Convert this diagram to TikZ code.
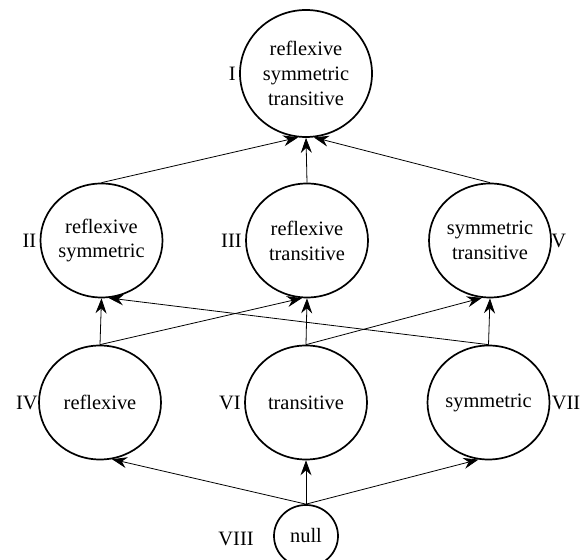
\documentclass[tikz,border=0pt]{standalone}
\usepackage{fontspec}
\setmainfont{Liberation Serif}
\usepackage{tikz}
\usetikzlibrary{arrows.meta}
\usetikzlibrary{shapes.geometric, positioning}

\tikzset{
    prop/.style={ellipse, draw, line width=1.7bp, inner sep=-2bp,
        minimum width=122bp, minimum height=114bp, align=center},
    freccia/.style={-{Stealth[length=15bp, width=11bp, inset=5bp]}, line width=0.8bp}
}

\begin{document}
\begin{tikzpicture}[x=1bp, y=1bp, font=\fontsize{20.5}{25}\selectfont]
        \useasboundingbox (0,0) rectangle (587,560);

        % Cerchi
        \node[prop, minimum width=132bp, minimum height=127bp] (I) at (306,486.5)
            {reflexive\\symmetric\\transitive};
        \node[prop] (II) at (101.5,319.5) {reflexive\\symmetric};
        \node[prop] (III) at (307,319.5) {reflexive\\transitive};
        \node[prop] (V) at (490,319.5) {symmetric\\transitive};
        \node[prop] (IV) at (100,157.5) {reflexive};
        \node[prop] (VI) at (306,157.5) {transitive};
        \node[prop] (VII) at (488.5,157.5) {symmetric};
        \node[prop, minimum width=64bp, minimum height=62bp] (nul) at (306,24) {null};

        % Etichette
        \node[left=0bp of I] (lI) {I};
        \node[left=0bp of II] (lII) {II};
        \node[left=0bp of III] (lIII) {III};
        \node[right=-4bp of V] (lV) {V};
        \node[left=-3bp of IV] (lIV) {IV};
        \node[left=0bp of VI] (lVI) {VI};
        \node[right=-2bp of VII] (lVII) {VII};
        \node[left=16bp of nul, yshift=-3bp] (lVIII) {VIII};

        % Frecce
        \draw[freccia] (II.north) -- (I.-97);
        \draw[freccia] (III.north) -- (I.south);
        \draw[freccia] (V.north) -- (I.-83);
        \draw[freccia] (IV.north) -- (II.south);
        \draw[freccia] (IV.north) -- (III.-95);
        \draw[freccia] (VI.north) -- (III.south);
        \draw[freccia] (VI.north) -- (V.-98);
        \draw[freccia] (VII.north) -- (V.south);
        \draw[freccia] (VII.north) -- (II.-83);
        \draw[freccia] (nul.north) -- (IV.-78);
        \draw[freccia] (nul.north) -- (VI.south);
        \draw[freccia] (nul.north) -- (VII.-100);
    \end{tikzpicture}
\end{document}
